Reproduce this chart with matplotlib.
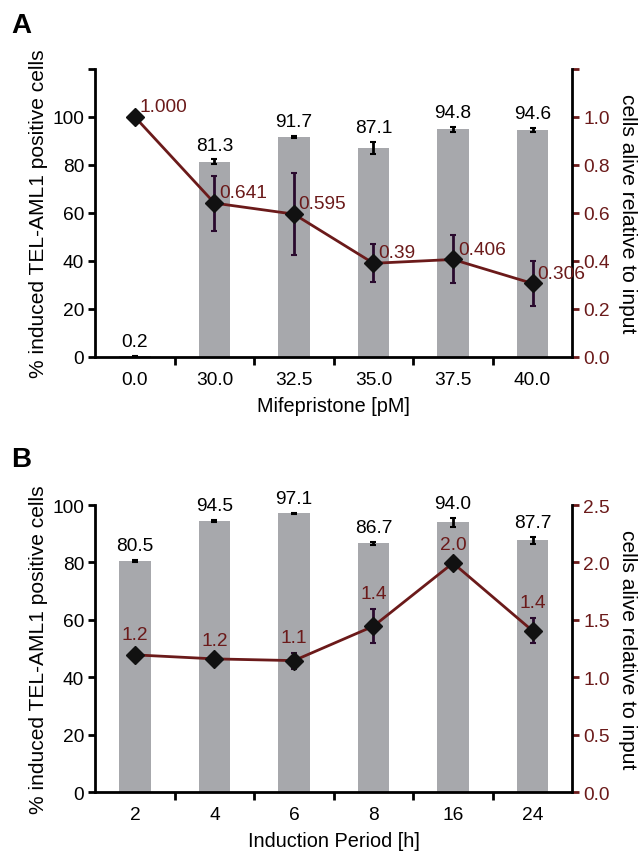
import numpy as np
import matplotlib
matplotlib.use("Agg")
import matplotlib.pyplot as plt

plt.rcParams['font.family'] = ['Liberation Sans', 'DejaVu Sans']

# ==========================
# Data
# ==========================
dose_labels = ["0.0", "30.0", "32.5", "35.0", "37.5", "40.0"]
dose_pct = [0.2, 81.3, 91.7, 87.1, 94.8, 94.6]
dose_pct_err = [0.2, 1.0, 0.5, 2.5, 1.2, 0.8]
dose_alive = [1.000, 0.641, 0.595, 0.390, 0.406, 0.306]
dose_alive_err = [0.0, 0.115, 0.17, 0.08, 0.10, 0.095]
dose_alive_text = ["1.000", "0.641", "0.595", "0.39", "0.406", "0.306"]

time_labels = ["2", "4", "6", "8", "16", "24"]
time_pct = [80.5, 94.5, 97.1, 86.7, 94.0, 87.7]
time_pct_err = [0.3, 0.3, 0.3, 0.5, 1.5, 1.2]
time_alive = [1.195, 1.16, 1.145, 1.445, 1.995, 1.405]
time_alive_err = [0.04, 0.03, 0.07, 0.15, 0.03, 0.11]
time_alive_text = ["1.2", "1.2", "1.1", "1.4", "2.0", "1.4"]

BAR = "#a7a8ac"
LINE = "#6b1a1a"
ERR = "#2a0a2e"
FS = 13.8


def panel(ax, labels, pct, pct_err, alive, alive_err, alive_text,
          ymax, rmax, rstep, xlabel, label_mode):
    x = np.arange(len(labels))
    ax.bar(x, pct, width=0.4, color=BAR, zorder=1)
    ax.errorbar(x, pct, yerr=pct_err, fmt="none", ecolor="black",
                elinewidth=2, capsize=2, capthick=1.5, zorder=2)
    for xi, v, e in zip(x, pct, pct_err):
        ax.text(xi, v + e + 2.0 * ymax / 100, f"{v:.1f}", ha="center",
                va="bottom", fontsize=FS, color="black")

    ax.set_xlim(-0.5, len(labels) - 0.5)
    ax.set_ylim(0, ymax)
    yt = np.arange(0, ymax + 1, 20)
    ax.set_yticks(yt)
    ax.set_yticklabels([str(int(t)) if t <= 100 else "" for t in yt])
    ax.set_xticks(x[:-1] + 0.5)
    ax.set_xticklabels([])
    ax.set_xticks(x, minor=True)
    ax.set_xticklabels(labels, minor=True)
    ax.tick_params(axis="x", which="minor", length=0, labelsize=FS, pad=10)
    ax.tick_params(axis="x", which="major", length=6, width=2, direction="out")
    ax.tick_params(axis="y", length=5, width=2, labelsize=FS, pad=3)
    ax.spines["top"].set_visible(False)
    ax.spines["right"].set_visible(False)
    for s in ["left", "bottom"]:
        ax.spines[s].set_linewidth(2)
    ax.set_xlabel(xlabel, fontsize=FS + 0.5, labelpad=6)
    ax.set_ylabel("% induced TEL-AML1 positive cells", fontsize=FS + 1.3,
                  labelpad=3)

    ax2 = ax.twinx()
    ax2.set_ylim(0, rmax)
    rt = np.arange(0, rmax + 1e-9, rstep)
    ax2.set_yticks(rt)
    ax2.set_yticklabels([f"{t:.1f}" if t < rmax - 1e-9 or rmax == 2.5 else "" for t in rt])
    ax2.tick_params(axis="y", length=5, width=2, colors=LINE, labelsize=FS,
                    pad=3)
    for s in ["top", "left", "bottom"]:
        ax2.spines[s].set_visible(False)
    ax2.spines["right"].set_linewidth(2)
    ax2.spines["right"].set_color("black")
    ax2.errorbar(x, alive, yerr=alive_err, fmt="none", ecolor=ERR,
                 elinewidth=2, capsize=2, capthick=1.5, zorder=3)
    ax2.plot(x, alive, color=LINE, lw=2, marker="D", markersize=9,
             markerfacecolor="#111111", markeredgecolor="#111111", zorder=4)
    for xi, v, e, t in zip(x, alive, alive_err, alive_text):
        if label_mode == "right":
            ax2.text(xi + 0.06, v + 0.008, t, ha="left", va="bottom",
                     fontsize=FS, color=LINE)
        else:
            ax2.text(xi, v + e + 0.06, t, ha="center", va="bottom",
                     fontsize=FS, color=LINE)
    ax2.set_ylabel("cells alive relative to input", fontsize=FS + 1.3,
                   rotation=-90, va="bottom", labelpad=6)
    ax2.set_zorder(ax.get_zorder() + 1)
    ax2.patch.set_visible(False)
    return ax, ax2


fig = plt.figure(figsize=(6.43, 8.54), dpi=100)
axA = fig.add_axes([0.148, 0.581, 0.742, 0.337])
axB = fig.add_axes([0.148, 0.0714, 0.742, 0.336])

panel(axA, dose_labels, dose_pct, dose_pct_err, dose_alive, dose_alive_err,
      dose_alive_text, 120, 1.2, 0.2, "Mifepristone [pM]", "right")
panel(axB, time_labels, time_pct, time_pct_err, time_alive, time_alive_err,
      time_alive_text, 100, 2.5, 0.5, "Induction Period [h]", "above")

fig.text(0.018, 0.97, "A", fontsize=20, fontweight="bold", va="center")
fig.text(0.018, 0.461, "B", fontsize=20, fontweight="bold", va="center")

fig.savefig("out.png", dpi=100)
